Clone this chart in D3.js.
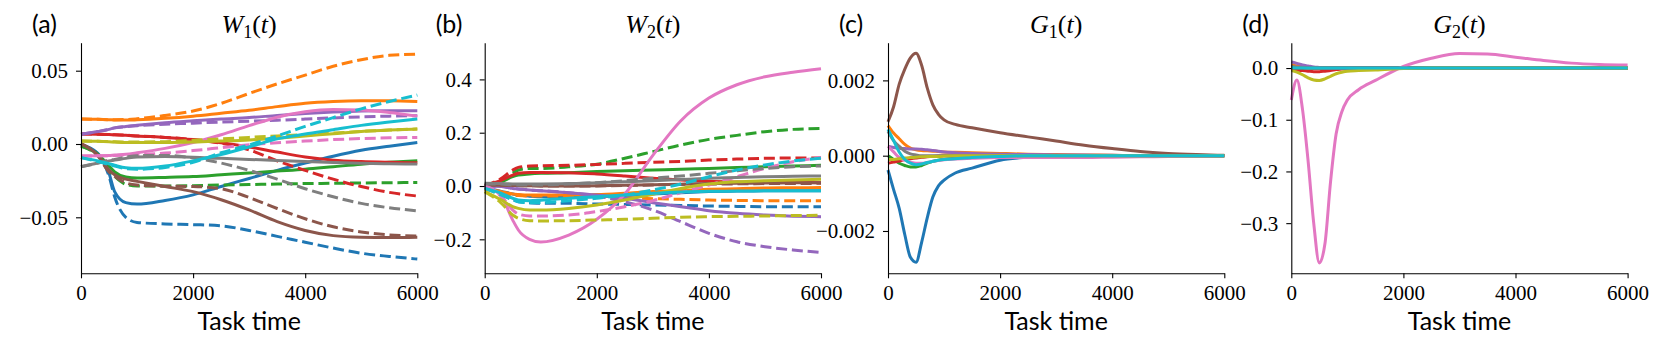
<!DOCTYPE html>
<html><head><meta charset="utf-8">
<script src="https://cdn.jsdelivr.net/npm/d3@7"></script>
<style>body{margin:0;background:#fff} svg{display:block}</style>
</head><body>
<svg id="c" width="1662" height="348"></svg>
<script>
// ---- data ----
const colors = ["#1f77b4","#ff7f0e","#2ca02c","#d62728","#9467bd","#8c564b","#e377c2","#7f7f7f","#bcbd22","#17becf"];
const xTicks = [0, 2000, 4000, 6000];
const panelLabels = ["(a)", "(b)", "(c)", "(d)"];
const titleLetters = ["W", "W", "G", "G"];
const titleSubs = ["1", "2", "1", "2"];
const yTicksA = [-0.05, 0, 0.05];
const yTicksB = [-0.2, 0, 0.2, 0.4];
const yTicksC = [-0.002, 0, 0.002];
const yTicksD = [-0.3, -0.2, -0.1, 0.0];

const tW = [0, 300, 500, 600, 800, 1000, 1500, 2000, 2500, 3000, 3500, 4000, 4500, 5000, 5500, 6000];
const tG = [0, 100, 200, 300, 400, 500, 600, 700, 800, 900, 1000, 1200, 1500, 2000, 2500, 3000, 3500, 4000, 4500, 5000, 5500, 6000];

// W1(t): solid and dashed, one row per colour (blue, orange, green, red, purple, brown, pink, gray, olive, cyan)
const W1_solid = [
  [-0.0005,-0.0064,-0.020,-0.0325,-0.040,-0.041,-0.0385,-0.0347,-0.029,-0.0235,-0.018,-0.013,-0.0083,-0.0043,-0.0015,0.001],
  [0.017,0.0168,0.0165,0.0164,0.0163,0.0165,0.0175,0.019,0.021,0.023,0.0255,0.0278,0.029,0.0295,0.0295,0.029],
  [-0.0014,-0.007,-0.015,-0.019,-0.0225,-0.0232,-0.0228,-0.0222,-0.021,-0.0198,-0.0185,-0.0172,-0.0155,-0.0138,-0.0125,-0.0114],
  [0.0068,0.0067,0.0065,0.0063,0.006,0.0055,0.0045,0.003,0.0008,-0.002,-0.0055,-0.0088,-0.011,-0.012,-0.0125,-0.0128],
  [0.0066,0.0085,0.010,0.011,0.012,0.0128,0.0145,0.0158,0.017,0.018,0.0195,0.0208,0.0218,0.0225,0.0227,0.0227],
  [0.0003,-0.0075,-0.0177,-0.021,-0.024,-0.0255,-0.029,-0.0325,-0.038,-0.045,-0.053,-0.059,-0.0625,-0.0636,-0.0638,-0.0636],
  [-0.0082,-0.0081,-0.0078,-0.0075,-0.007,-0.006,-0.003,0.001,0.0063,0.0125,0.0183,0.022,0.0235,0.0232,0.0215,0.019],
  [-0.0155,-0.013,-0.0115,-0.011,-0.0098,-0.0088,-0.0086,-0.009,-0.0098,-0.0105,-0.0112,-0.012,-0.0127,-0.0132,-0.0135,-0.0136],
  [0.002,0.0018,0.0015,0.0013,0.001,0.001,0.001,0.0013,0.002,0.0028,0.004,0.0055,0.007,0.0085,0.0095,0.0102],
  [-0.0093,-0.0115,-0.0135,-0.0145,-0.0162,-0.0166,-0.015,-0.0115,-0.0072,-0.002,0.0035,0.0068,0.0097,0.0127,0.015,0.017]
];
const W1_dashed = [
  [-0.0005,-0.007,-0.022,-0.036,-0.050,-0.0535,-0.0545,-0.055,-0.0558,-0.059,-0.063,-0.067,-0.071,-0.0745,-0.0767,-0.0785],
  [0.017,0.0168,0.0166,0.0166,0.0167,0.0172,0.0195,0.0225,0.0277,0.0345,0.041,0.047,0.053,0.0575,0.0605,0.0613],
  [-0.0014,-0.008,-0.018,-0.022,-0.0275,-0.0287,-0.0287,-0.0284,-0.028,-0.0277,-0.0273,-0.027,-0.0268,-0.0266,-0.0264,-0.0263],
  [0.0068,0.0067,0.0065,0.0063,0.006,0.0055,0.0045,0.003,0.0005,-0.004,-0.0115,-0.018,-0.024,-0.029,-0.033,-0.0355],
  [0.0066,0.0085,0.010,0.011,0.0118,0.0125,0.0135,0.0142,0.015,0.0155,0.0162,0.017,0.0178,0.0185,0.019,0.0193],
  [0.0003,-0.008,-0.019,-0.022,-0.0265,-0.028,-0.0288,-0.029,-0.0305,-0.0365,-0.044,-0.051,-0.0565,-0.060,-0.062,-0.0627],
  [-0.0082,-0.0081,-0.008,-0.0078,-0.0075,-0.0072,-0.0062,-0.0045,-0.0025,-0.0005,0.0008,0.002,0.003,0.0037,0.0042,0.0045],
  [-0.0155,-0.013,-0.011,-0.0105,-0.009,-0.008,-0.0078,-0.0095,-0.013,-0.018,-0.024,-0.0305,-0.036,-0.0405,-0.0435,-0.0456],
  [0.002,0.0018,0.0016,0.0015,0.0014,0.0014,0.0016,0.0025,0.0035,0.0045,0.0055,0.0065,0.0075,0.0085,0.0095,0.0102],
  [-0.0093,-0.012,-0.014,-0.015,-0.0168,-0.0172,-0.016,-0.0125,-0.006,-0.0006,0.0055,0.012,0.018,0.024,0.029,0.0334]
];

// W2(t)
const W2_solid = [
  [-0.005,-0.02,-0.03,-0.034,-0.038,-0.04,-0.041,-0.04,-0.036,-0.03,-0.025,-0.021,-0.019,-0.018,-0.0175,-0.0175],
  [-0.0125,-0.021,-0.03,-0.032,-0.034,-0.034,-0.034,-0.032,-0.027,-0.021,-0.017,-0.0125,-0.01,-0.0075,-0.0065,-0.006],
  [0,0.016,0.035,0.041,0.045,0.0475,0.05,0.054,0.0575,0.06,0.0625,0.066,0.069,0.0725,0.075,0.0775],
  [0,0.022,0.041,0.0475,0.051,0.051,0.05,0.045,0.0375,0.029,0.0225,0.0175,0.015,0.0135,0.013,0.0125],
  [0,-0.002,-0.009,-0.011,-0.015,-0.0175,-0.025,-0.034,-0.046,-0.0625,-0.0775,-0.0925,-0.1025,-0.109,-0.113,-0.115],
  [0.004,0.003,0.002,0.0015,0.001,0,0,0.001,0.003,0.005,0.007,0.009,0.010,0.011,0.012,0.0125],
  [0,-0.04,-0.128,-0.165,-0.2,-0.21,-0.184,-0.125,-0.03,0.115,0.245,0.33,0.38,0.41,0.427,0.44],
  [0.01,0.009,0.008,0.008,0.0078,0.0075,0.009,0.0125,0.016,0.02,0.0245,0.029,0.032,0.035,0.0365,0.0375],
  [-0.021,-0.0525,-0.0775,-0.084,-0.09,-0.09,-0.084,-0.071,-0.0525,-0.031,-0.009,0.0075,0.016,0.02,0.023,0.025],
  [-0.009,-0.0275,-0.046,-0.0525,-0.055,-0.053,-0.046,-0.04,-0.034,-0.0275,-0.0225,-0.02,-0.019,-0.0175,-0.0175,-0.0175]
];
const W2_dashed = [
  [-0.005,-0.034,-0.05,-0.059,-0.0625,-0.065,-0.065,-0.0675,-0.069,-0.071,-0.073,-0.075,-0.0765,-0.0775,-0.0775,-0.0775],
  [-0.0125,-0.025,-0.034,-0.036,-0.0375,-0.0375,-0.039,-0.04,-0.044,-0.0475,-0.05,-0.0525,-0.054,-0.055,-0.055,-0.055],
  [0,0.016,0.048,0.06,0.066,0.066,0.072,0.082,0.104,0.129,0.154,0.175,0.19,0.204,0.2125,0.216],
  [0,0.029,0.06,0.07,0.075,0.076,0.0775,0.081,0.085,0.089,0.0925,0.0975,0.101,0.104,0.105,0.105],
  [0,-0.002,-0.009,-0.011,-0.015,-0.0175,-0.025,-0.0375,-0.059,-0.09,-0.134,-0.1775,-0.209,-0.2275,-0.24,-0.249],
  [0.004,0.003,0.002,0.0015,0.001,0,0,0.0005,0.002,0.004,0.006,0.007,0.008,0.009,0.0095,0.01],
  [0,-0.04,-0.09,-0.105,-0.1125,-0.1125,-0.109,-0.096,-0.0775,-0.055,-0.025,0.004,0.035,0.066,0.091,0.1075],
  [0.0075,0.0075,0.004,0.004,0.004,0.004,0.0075,0.0125,0.02,0.029,0.0375,0.0475,0.0575,0.066,0.0725,0.075],
  [-0.021,-0.065,-0.109,-0.121,-0.13,-0.131,-0.13,-0.1275,-0.125,-0.121,-0.1175,-0.115,-0.1135,-0.1125,-0.111,-0.11],
  [-0.009,-0.034,-0.052,-0.059,-0.0625,-0.062,-0.055,-0.046,-0.034,-0.015,0.0075,0.035,0.06,0.079,0.094,0.104]
];

// G1(t)
const G1 = [
  [-0.00038,-0.0009,-0.0014,-0.0021,-0.0027,-0.00283,-0.0023,-0.00165,-0.0011,-0.0008,-0.00065,-0.00046,-0.00033,-0.00012,-0.00004,0,0,0,0,0,0,0],
  [0.0008,0.0006,0.00045,0.0003,0.0002,0.00016,0.00014,0.00013,0.00012,0.00011,0.0001,0.00009,0.00008,0.00006,0.00004,0.00003,0.00002,0.00001,0,0,0,0],
  [0,-0.0001,-0.0002,-0.00026,-0.0003,-0.0003,-0.00026,-0.0002,-0.00015,-0.00012,-0.0001,-0.00007,-0.00005,-0.00002,0,0,0,0,0,0,0,0],
  [-0.0002,-0.00017,-0.00014,-0.0001,-0.00008,-0.00006,-0.00004,-0.00003,-0.00002,-0.00001,0,0,0,0,0,0,0,0,0,0,0,0],
  [0.00025,0.00022,0.0002,0.00019,0.00018,0.00018,0.00017,0.00016,0.00014,0.00012,0.0001,0.00008,0.00006,0.00004,0.00003,0.00002,0.000015,0.00001,0,0,0,0],
  [0.0009,0.0013,0.0019,0.0023,0.0026,0.00272,0.0024,0.0018,0.00135,0.0011,0.00095,0.00083,0.00074,0.00061,0.0005,0.00039,0.00028,0.00019,0.00011,0.00006,0.00003,0.00001],
  [0.00025,0.0001,-0.00005,-0.00012,-0.00017,-0.0002,-0.0002,-0.00018,-0.00015,-0.00013,-0.00011,-0.00009,-0.00007,-0.00005,-0.00005,-0.00005,-0.00005,-0.00004,-0.00003,-0.00002,-0.00001,0],
  [0.00065,0.0004,0.00025,0.00012,0.00005,0.00002,0,0,0,0,0,0,0,0,0,0,0,0,0,0,0,0],
  [-0.0001,-0.0001,-0.00008,-0.00006,-0.00005,-0.00004,-0.00003,-0.00002,-0.00002,-0.00002,-0.00001,0,0,0,0,0,0,0,0,0,0,0],
  [0.0007,0.0004,0.0001,-0.0001,-0.0002,-0.00024,-0.00022,-0.00018,-0.00015,-0.00012,-0.0001,-0.00008,-0.00005,-0.00002,0,0,0,0,0,0,0,0]
];

// G2(t)
const G2 = [
  [0.004,0.003,0.002,0.001,0,0,0,0,0,0,0,0,0,0,0,0,0,0,0,0,0,0],
  [0.006,0.004,0.002,0.001,0,0,0,0,0,0,0,0,0,0,0,0,0,0,0,0,0,0],
  [-0.003,-0.002,-0.001,0,0,0,0,0,0,0,0,0,0,0,0,0,0,0,0,0,0,0],
  [-0.002,-0.004,-0.005,-0.006,-0.007,-0.007,-0.006,-0.005,-0.003,-0.002,-0.001,0,0,0,0,0,0,0,0,0,0,0],
  [0.012,0.009,0.006,0.004,0.002,0.001,0,0,0,0,0,0,0,0,0,0,0,0,0,0,0,0],
  [0,0,0,0,0,0,0,0,0,0,0,0,0,0,0,0,0,0,0,0,0,0],
  [-0.062,-0.023,-0.08,-0.18,-0.30,-0.377,-0.34,-0.22,-0.127,-0.085,-0.062,-0.042,-0.024,0.003,0.019,0.028,0.027,0.021,0.0145,0.0095,0.007,0.0058],
  [0.003,0.002,0.001,0,0,0,0,0,0,0,0,0,0,0,0,0,0,0,0,0,0,0],
  [-0.005,-0.008,-0.013,-0.019,-0.023,-0.024,-0.021,-0.016,-0.011,-0.008,-0.006,-0.005,-0.004,-0.001,0,0,0,0,0,0,0,0],
  [0.001,0,0,0,0,0,0,0,0,0,0,0,0,0,0,0,0,0,0,0,0,0]
];

// ---- layout ----
const svg = d3.select("#c");
svg.append("rect").attr("width",1662).attr("height",348).attr("fill","#fff");
const plotTop = 42.7, plotBottom = 273.3, plotW = 336.3;
const panels = [
  {left: 81,    yDomain:[-0.0882, 0.0691],   yTicks:yTicksA, fmt:".2f", t:tW, solid:W1_solid, dashed:W1_dashed},
  {left: 484.7, yDomain:[-0.3275, 0.5377],   yTicks:yTicksB, fmt:".1f", t:tW, solid:W2_solid, dashed:W2_dashed},
  {left: 888,   yDomain:[-0.003124, 0.003001], yTicks:yTicksC, fmt:".3f", t:tG, solid:G1, dashed:null},
  {left: 1291.3,yDomain:[-0.397, 0.049],     yTicks:yTicksD, fmt:".1f", t:tG, solid:G2, dashed:null}
];
const serif = "'Liberation Serif', 'DejaVu Serif', serif";
const sans = "Lato, 'Open Sans', sans-serif";
const LW = 3.0;

panels.forEach((p, pi) => {
  const x = d3.scaleLinear().domain([0, 6000]).range([p.left, p.left + plotW]);
  const y = d3.scaleLinear().domain(p.yDomain).range([plotBottom, plotTop]);
  const g = svg.append("g");

  const line = d3.line().x((d, i) => x(p.t[i])).y(d => y(d)).curve(d3.curveMonotoneX);
  const lg = g.append("g");
  for (let i = 0; i < 10; i++) {
    lg.append("path").attr("d", line(p.solid[i])).attr("fill","none")
      .attr("stroke", colors[i]).attr("stroke-width", LW).attr("stroke-linejoin","round");
    if (p.dashed) {
      lg.append("path").attr("d", line(p.dashed[i])).attr("fill","none")
        .attr("stroke", colors[i]).attr("stroke-width", LW)
        .attr("stroke-dasharray", "11,4.8");
    }
  }

  const xAxis = g.append("g").attr("transform", `translate(0,${plotBottom})`)
    .call(d3.axisBottom(x).tickValues(xTicks).tickFormat(d3.format("d")).tickSizeInner(5).tickSizeOuter(0).tickPadding(7));
  const yAxis = g.append("g").attr("transform", `translate(${p.left},0)`)
    .call(d3.axisLeft(y).tickValues(p.yTicks).tickFormat(d3.format(p.fmt)).tickSizeInner(5).tickSizeOuter(0).tickPadding(8));
  [xAxis, yAxis].forEach(a => {
    a.attr("font-family", serif).attr("font-size", 21);
    a.selectAll("path, line").attr("stroke", "#000").attr("stroke-width", 1.1);
    a.selectAll("text").attr("fill", "#000");
  });
  yAxis.selectAll("text").attr("dy", "0.33em");

  g.append("text").attr("x", p.left + plotW/2).attr("y", 329.5).attr("text-anchor","middle")
    .attr("font-family", sans).attr("font-size", 25).text("Task time");

  g.append("text").attr("x", p.left - 49).attr("y", 33).attr("font-family", sans)
    .attr("font-size", 25).text(panelLabels[pi]);

  const tt = g.append("text").attr("x", p.left + plotW/2).attr("y", 33).attr("text-anchor","middle")
    .attr("font-family", serif).attr("font-size", 26);
  tt.append("tspan").attr("font-style","italic").text(titleLetters[pi]);
  tt.append("tspan").attr("font-size", 18).attr("dy", 5).text(titleSubs[pi]);
  tt.append("tspan").attr("dy", -5).text("(");
  tt.append("tspan").attr("font-style","italic").text("t");
  tt.append("tspan").text(")");
});
</script>
</body></html>
